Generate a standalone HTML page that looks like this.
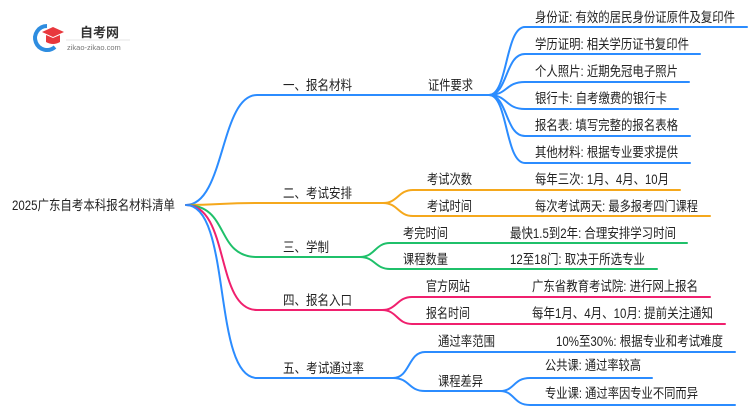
<!DOCTYPE html>
<html><head><meta charset="utf-8"><style>
html,body{margin:0;padding:0;background:#fff;}
svg{display:block;}
text{font-family:"Liberation Sans","Noto Sans CJK SC",sans-serif;font-size:13.5px;fill:#222;}
</style></head><body>
<svg width="750" height="410" viewBox="0 0 750 410" xmlns="http://www.w3.org/2000/svg">
<!-- logo -->
<path d="M47 26 A12 12 0 1 0 55 47" fill="none" stroke="#2e8de0" stroke-width="4"/>
<path d="M42 32 L53 27 L64 32 L53 37 Z" fill="#e8383d"/>
<path d="M46 35 L46 42 Q53 46 60 42 L60 35 L53 38 Z" fill="#e8383d"/>
<text x="80" y="37" style="font-size:13px;font-weight:bold;fill:#333">自考网</text>
<line x1="66" y1="40" x2="130" y2="40" stroke="#ddd" stroke-width="0.7"/>
<text x="67" y="50" style="font-size:7.5px;fill:#777">zikao-zikao.com</text>

<g fill="none" stroke-width="2" stroke-linecap="round">
<g stroke="#2b8cff">
<path d="M186 205 C225 205 220 95 257 95 L489 95"/>
<path d="M489 95 C508 95 505 27 525 27 L747 27"/>
<path d="M489 95 C508 95 505 54 525 54 L700 54"/>
<path d="M489 95 C508 95 505 82 525 82 L689 82"/>
<path d="M489 95 C508 95 505 109 525 109 L678 109"/>
<path d="M489 95 C508 95 505 136 525 136 L690 136"/>
<path d="M489 95 C508 95 505 163 525 163 L690 163"/>
</g>
<g stroke="#f5a81c">
<path d="M186 205 C220 205 220 203 257 203 L383 203"/>
<path d="M383 203 C398 203 398 190 413 190 L680 190"/>
<path d="M383 203 C398 203 398 216 413 216 L710 216"/>
</g>
<g stroke="#1fc06a">
<path d="M186 205 C230 205 215 257 257 257 L360 257"/>
<path d="M360 257 C375 257 375 243 390 243 L687 243"/>
<path d="M360 257 C375 257 375 269 390 269 L657 269"/>
</g>
<g stroke="#f0206e">
<path d="M186 205 C230 205 215 310 257 310 L382 310"/>
<path d="M382 310 C397 310 397 297 412 297 L710 297"/>
<path d="M382 310 C397 310 397 324 412 324 L725 324"/>
</g>
<g stroke="#2b8cff">
<path d="M186 205 C232 205 212 378 257 378 L393 378"/>
<path d="M393 378 C410 378 408 352 425 352 L735 352"/>
<path d="M393 378 C410 378 408 391 425 391 L500 391"/>
<path d="M500 391 C515 391 513 378 530 378 L652 378"/>
<path d="M500 391 C515 391 513 405 530 405 L735 405"/>
</g>
</g>

<g>
<text x="12" y="210" textLength="163" lengthAdjust="spacingAndGlyphs">2025广东自考本科报名材料清单</text>
<text x="283" y="90" textLength="69" lengthAdjust="spacingAndGlyphs">一、报名材料</text>
<text x="428" y="90" textLength="45" lengthAdjust="spacingAndGlyphs">证件要求</text>
<text x="535" y="22" textLength="200" lengthAdjust="spacingAndGlyphs">身份证: 有效的居民身份证原件及复印件</text>
<text x="535" y="49" textLength="154" lengthAdjust="spacingAndGlyphs">学历证明: 相关学历证书复印件</text>
<text x="535" y="76" textLength="143" lengthAdjust="spacingAndGlyphs">个人照片: 近期免冠电子照片</text>
<text x="535" y="103" textLength="132" lengthAdjust="spacingAndGlyphs">银行卡: 自考缴费的银行卡</text>
<text x="535" y="130" textLength="143" lengthAdjust="spacingAndGlyphs">报名表: 填写完整的报名表格</text>
<text x="535" y="157" textLength="143" lengthAdjust="spacingAndGlyphs">其他材料: 根据专业要求提供</text>

<text x="283" y="198" textLength="69" lengthAdjust="spacingAndGlyphs">二、考试安排</text>
<text x="427" y="184" textLength="45" lengthAdjust="spacingAndGlyphs">考试次数</text>
<text x="535" y="184" textLength="134" lengthAdjust="spacingAndGlyphs">每年三次: 1月、4月、10月</text>
<text x="427" y="211" textLength="45" lengthAdjust="spacingAndGlyphs">考试时间</text>
<text x="535" y="211" textLength="163" lengthAdjust="spacingAndGlyphs">每次考试两天: 最多报考四门课程</text>

<text x="283" y="252" textLength="46" lengthAdjust="spacingAndGlyphs">三、学制</text>
<text x="403" y="238" textLength="45" lengthAdjust="spacingAndGlyphs">考完时间</text>
<text x="510" y="238" textLength="166" lengthAdjust="spacingAndGlyphs">最快1.5到2年: 合理安排学习时间</text>
<text x="403" y="264" textLength="45" lengthAdjust="spacingAndGlyphs">课程数量</text>
<text x="510" y="264" textLength="135" lengthAdjust="spacingAndGlyphs">12至18门: 取决于所选专业</text>

<text x="283" y="305" textLength="69" lengthAdjust="spacingAndGlyphs">四、报名入口</text>
<text x="426" y="291" textLength="44" lengthAdjust="spacingAndGlyphs">官方网站</text>
<text x="532" y="291" textLength="166" lengthAdjust="spacingAndGlyphs">广东省教育考试院: 进行网上报名</text>
<text x="426" y="318" textLength="44" lengthAdjust="spacingAndGlyphs">报名时间</text>
<text x="532" y="318" textLength="181" lengthAdjust="spacingAndGlyphs">每年1月、4月、10月: 提前关注通知</text>

<text x="283" y="373" textLength="81" lengthAdjust="spacingAndGlyphs">五、考试通过率</text>
<text x="438" y="346" textLength="57" lengthAdjust="spacingAndGlyphs">通过率范围</text>
<text x="556" y="346" textLength="167" lengthAdjust="spacingAndGlyphs">10%至30%: 根据专业和考试难度</text>
<text x="438" y="386" textLength="45" lengthAdjust="spacingAndGlyphs">课程差异</text>
<text x="545" y="370" textLength="96" lengthAdjust="spacingAndGlyphs">公共课: 通过率较高</text>
<text x="545" y="398" textLength="153" lengthAdjust="spacingAndGlyphs">专业课: 通过率因专业不同而异</text>
</g>
</svg>
</body></html>
